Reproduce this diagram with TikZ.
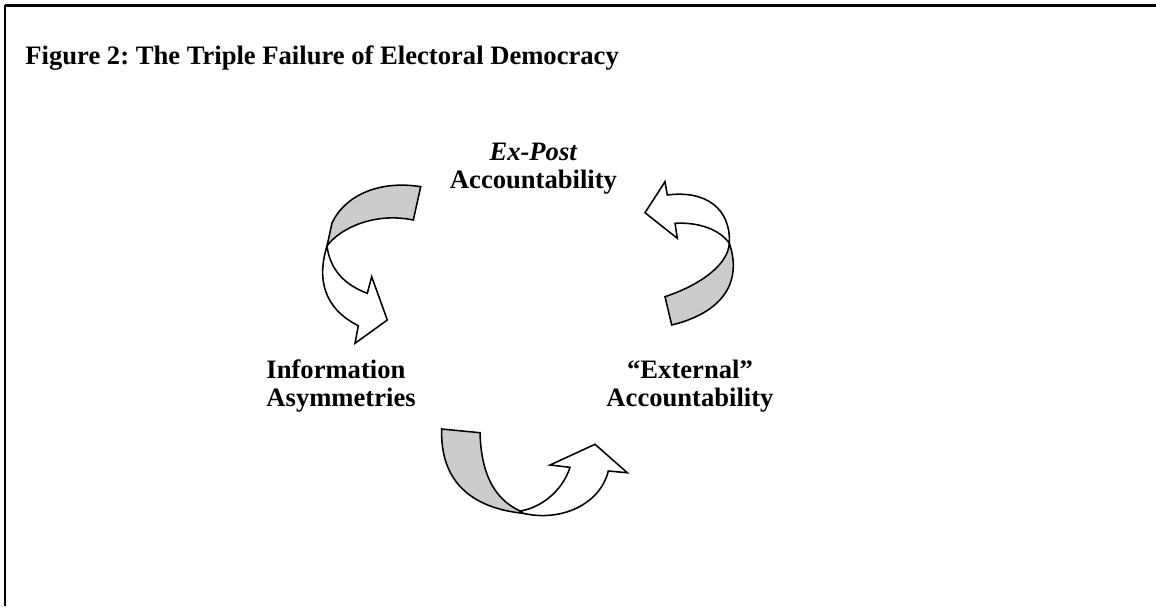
\documentclass[tikz,border=0pt]{standalone}
\usepackage{fontspec}
\setmainfont{Liberation Serif}
\frenchspacing
\newcommand{\lblfont}{\fontsize{12}{12.7}\selectfont\bfseries}
\tikzset{
  fig_title/.style = {anchor=base west, inner sep=0pt, font=\lblfont},
  cyc_lbl/.style = {inner sep=0pt, font=\lblfont, align=center},
  rib_back/.style = {draw=black, fill=black!20, line width=0.7pt},
  rib_front/.style = {draw=black, fill=white, line width=0.7pt},
}

\begin{document}
\begin{tikzpicture}[x=0.451pt, y=-0.451pt]
  \useasboundingbox (0,0) rectangle (1156,606);
  \draw[line width=0.9pt] (5,606) -- (5,5.3);
  \draw[line width=1.2pt] (4.6,5.3) -- (1156,5.3);

  \node[fig_title] (title) at (25,64) {Figure 2: The Triple Failure of Electoral Democracy};

  \node[cyc_lbl] (expost) at (533.5,169) {\textit{Ex-Post}\\Accountability};
  \node[cyc_lbl, align=left, anchor=west] (infoasym) at (266,386) {Information\\Asymmetries};
  \node[cyc_lbl] (extacc) at (690,386) {“External”\\Accountability};

  % ribbon from Ex-Post down to Information
  \draw[rib_back] (420.7,186.7) .. controls (380,180) and (345,195) .. (332,223)
    -- (327,246) .. controls (340,228) and (375,212) .. (413.3,220) -- cycle;
  \draw[rib_front] (327,246) .. controls (317,278) and (323,308) .. (358.3,325.7)
    -- (355,343.3) -- (387.3,320) -- (371.7,276.7) -- (367.3,293.3)
    .. controls (345,285) and (330,270) .. (327,246) -- cycle;

  % ribbon from External back up to Ex-Post
  \draw[rib_back] (665,296.7) -- (671.7,325) .. controls (725,312) and (742,280) .. (729.3,243.3)
    .. controls (728,265) and (700,285) .. (665,296.7) -- cycle;
  \draw[rib_front] (729.3,243.3) .. controls (731,208) and (705,190) .. (667.3,195)
    -- (665,181.7) -- (645,212.7) -- (677.3,238.3) -- (675,223.3)
    .. controls (700,222) and (720,230) .. (729.3,243.3) -- cycle;

  % ribbon from Information over to External
  \draw[rib_back] (441.7,429) -- (480,432.7) .. controls (481,470) and (492,498) .. (520,511)
    -- (523.3,513.3) .. controls (470,508) and (440,480) .. (441.7,429) -- cycle;
  \draw[rib_front] (523.3,513.3) .. controls (560,522) and (600,505) .. (608.3,471)
    -- (627.3,472.7) -- (595,444.3) -- (550,465) -- (570,467.3)
    .. controls (562,492) and (540,508) .. (520,511) -- cycle;
\end{tikzpicture}
\end{document}
